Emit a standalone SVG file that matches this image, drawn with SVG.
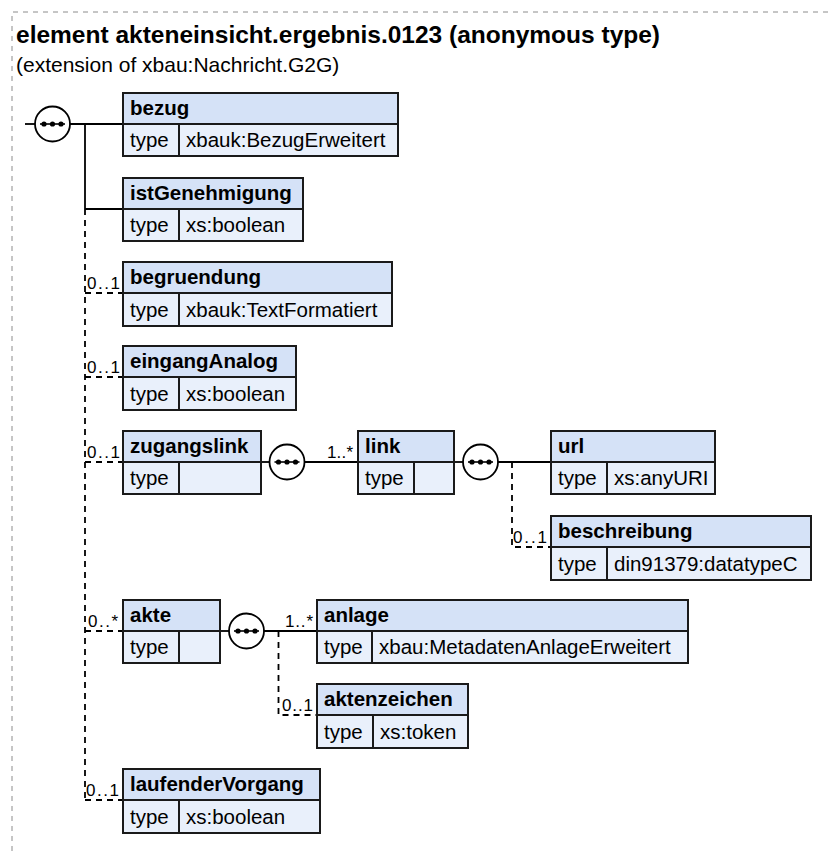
<svg xmlns="http://www.w3.org/2000/svg" width="830" height="851" viewBox="0 0 830 851">
<style>
.frame{fill:none;stroke:#8c8c8c;stroke-width:1;stroke-dasharray:5,5}
.title{font-family:"Liberation Sans",Arial,sans-serif;font-size:24.5px;font-weight:bold;fill:#000}
.sub{font-family:"Liberation Sans",Arial,sans-serif;font-size:21px;fill:#000}
.hd{fill:#d5e2f7;stroke:#1a1a1a;stroke-width:2}
.row{fill:#e9f0fb;stroke:#1a1a1a;stroke-width:2}
.div{stroke:#1a1a1a;stroke-width:2}
.nm{font-family:"Liberation Sans",Arial,sans-serif;font-size:20.5px;font-weight:bold;fill:#000}
.tx{font-family:"Liberation Sans",Arial,sans-serif;font-size:20.5px;fill:#000}
.lbl{font-family:"Liberation Sans",Arial,sans-serif;font-size:17px;fill:#000}
.sol{fill:none;stroke:#000;stroke-width:1.8}
.dsh{fill:none;stroke:#000;stroke-width:1.8;stroke-dasharray:6,5}
.seq{fill:#fff;stroke:#000;stroke-width:1.8}
.dot{fill:#000}
</style>
<defs>
<g id="seqsym">
<circle class="seq" cx="0" cy="0" r="17.5"/>
<line x1="-12.5" y1="0" x2="12.5" y2="0" stroke="#000" stroke-width="1.6"/>
<circle class="dot" cx="-8.5" cy="0" r="2.6"/>
<circle class="dot" cx="0" cy="0" r="2.6"/>
<circle class="dot" cx="8.5" cy="0" r="2.6"/>
</g>
</defs>
<path class="frame" d="M12,851 V12 H830"/>
<text class="title" x="16" y="43">element akteneinsicht.ergebnis.0123 (anonymous type)</text>
<text class="sub" x="16" y="72">(extension of xbau:Nachricht.G2G)</text>

<g id="connectors">
<line class="sol" x1="25" y1="124" x2="35" y2="124"/>
<line class="sol" x1="70" y1="124" x2="123" y2="124"/>
<line class="sol" x1="85" y1="124" x2="85" y2="209"/>
<line class="sol" x1="85" y1="209" x2="123" y2="209"/>
<path class="dsh" d="M85,209 V800"/>
<path class="dsh" d="M85,293 H123"/>
<path class="dsh" d="M85,377 H123"/>
<path class="dsh" d="M85,462 H123"/>
<path class="dsh" d="M85,631 H123"/>
<path class="dsh" d="M85,800 H123"/>
<line class="sol" x1="261" y1="462" x2="270" y2="462"/>
<line class="sol" x1="305" y1="462" x2="358" y2="462"/>
<line class="sol" x1="454" y1="462" x2="463" y2="462"/>
<line class="sol" x1="498" y1="462" x2="551" y2="462"/>
<path class="dsh" d="M512,462 V547 H551"/>
<line class="sol" x1="220" y1="631" x2="229" y2="631"/>
<line class="sol" x1="264" y1="631" x2="317" y2="631"/>
<path class="dsh" d="M278.5,631 V715 H317"/>
<text class="lbl" x="87" y="289" textLength="33" lengthAdjust="spacing">0..1</text>
<text class="lbl" x="87" y="373" textLength="33" lengthAdjust="spacing">0..1</text>
<text class="lbl" x="87" y="458" textLength="33" lengthAdjust="spacing">0..1</text>
<text class="lbl" x="88" y="627" textLength="30" lengthAdjust="spacing">0..*</text>
<text class="lbl" x="86" y="796" textLength="33" lengthAdjust="spacing">0..1</text>
<text class="lbl" x="327" y="458" textLength="26" lengthAdjust="spacing">1..*</text>
<text class="lbl" x="513" y="543" textLength="34" lengthAdjust="spacing">0..1</text>
<text class="lbl" x="285" y="627" textLength="28" lengthAdjust="spacing">1..*</text>
<text class="lbl" x="282" y="711" textLength="31" lengthAdjust="spacing">0..1</text>
</g>

<g id="seq-main"><use href="#seqsym" x="52.5" y="124"/></g>
<g id="seq-zugangslink"><use href="#seqsym" x="287" y="462"/></g>
<g id="seq-link"><use href="#seqsym" x="480.5" y="462"/></g>
<g id="seq-akte"><use href="#seqsym" x="246.5" y="631"/></g>

<g id="bezug">
<rect class="row" x="123" y="124" width="275" height="32"/>
<rect class="hd" x="123" y="93" width="275" height="31"/>
<line class="div" x1="179" y1="124" x2="179" y2="156"/>
<text class="nm" x="130" y="115">bezug</text>
<text class="tx" x="130" y="147">type</text>
<text class="tx" x="186" y="147">xbauk:BezugErweitert</text>
</g>
<g id="istGenehmigung">
<rect class="row" x="123" y="209" width="180" height="32"/>
<rect class="hd" x="123" y="178" width="180" height="31"/>
<line class="div" x1="179" y1="209" x2="179" y2="241"/>
<text class="nm" x="130" y="200">istGenehmigung</text>
<text class="tx" x="130" y="232">type</text>
<text class="tx" x="186" y="232">xs:boolean</text>
</g>
<g id="begruendung">
<rect class="row" x="123" y="293" width="269" height="33"/>
<rect class="hd" x="123" y="262" width="269" height="31"/>
<line class="div" x1="179" y1="293" x2="179" y2="326"/>
<text class="nm" x="130" y="284">begruendung</text>
<text class="tx" x="130" y="317">type</text>
<text class="tx" x="186" y="317">xbauk:TextFormatiert</text>
</g>
<g id="eingangAnalog">
<rect class="row" x="123" y="377" width="173" height="33"/>
<rect class="hd" x="123" y="346" width="173" height="31"/>
<line class="div" x1="179" y1="377" x2="179" y2="410"/>
<text class="nm" x="130" y="368">eingangAnalog</text>
<text class="tx" x="130" y="401">type</text>
<text class="tx" x="186" y="401">xs:boolean</text>
</g>
<g id="zugangslink">
<rect class="row" x="123" y="462" width="138" height="32"/>
<rect class="hd" x="123" y="431" width="138" height="31"/>
<line class="div" x1="179" y1="462" x2="179" y2="494"/>
<text class="nm" x="130" y="453">zugangslink</text>
<text class="tx" x="130" y="485">type</text>
</g>
<g id="link">
<rect class="row" x="358" y="462" width="96" height="32"/>
<rect class="hd" x="358" y="431" width="96" height="31"/>
<line class="div" x1="414" y1="462" x2="414" y2="494"/>
<text class="nm" x="365" y="453">link</text>
<text class="tx" x="365" y="485">type</text>
</g>
<g id="url">
<rect class="row" x="551" y="462" width="164" height="32"/>
<rect class="hd" x="551" y="431" width="164" height="31"/>
<line class="div" x1="607" y1="462" x2="607" y2="494"/>
<text class="nm" x="558" y="453">url</text>
<text class="tx" x="558" y="485">type</text>
<text class="tx" x="614" y="485">xs:anyURI</text>
</g>
<g id="beschreibung">
<rect class="row" x="551" y="547" width="260" height="33"/>
<rect class="hd" x="551" y="516" width="260" height="31"/>
<line class="div" x1="607" y1="547" x2="607" y2="580"/>
<text class="nm" x="558" y="538">beschreibung</text>
<text class="tx" x="558" y="571">type</text>
<text class="tx" x="614" y="571">din91379:datatypeC</text>
</g>
<g id="akte">
<rect class="row" x="123" y="631" width="97" height="32"/>
<rect class="hd" x="123" y="600" width="97" height="31"/>
<line class="div" x1="179" y1="631" x2="179" y2="663"/>
<text class="nm" x="130" y="622">akte</text>
<text class="tx" x="130" y="654">type</text>
</g>
<g id="anlage">
<rect class="row" x="317" y="631" width="371" height="32"/>
<rect class="hd" x="317" y="600" width="371" height="31"/>
<line class="div" x1="372" y1="631" x2="372" y2="663"/>
<text class="nm" x="324" y="622">anlage</text>
<text class="tx" x="324" y="654">type</text>
<text class="tx" x="379" y="654">xbau:MetadatenAnlageErweitert</text>
</g>
<g id="aktenzeichen">
<rect class="row" x="317" y="715" width="151" height="33"/>
<rect class="hd" x="317" y="684" width="151" height="31"/>
<line class="div" x1="373" y1="715" x2="373" y2="748"/>
<text class="nm" x="324" y="706">aktenzeichen</text>
<text class="tx" x="324" y="739">type</text>
<text class="tx" x="380" y="739">xs:token</text>
</g>
<g id="laufenderVorgang">
<rect class="row" x="123" y="800" width="197" height="33"/>
<rect class="hd" x="123" y="769" width="197" height="31"/>
<line class="div" x1="179" y1="800" x2="179" y2="833"/>
<text class="nm" x="130" y="791">laufenderVorgang</text>
<text class="tx" x="130" y="824">type</text>
<text class="tx" x="186" y="824">xs:boolean</text>
</g>
</svg>
